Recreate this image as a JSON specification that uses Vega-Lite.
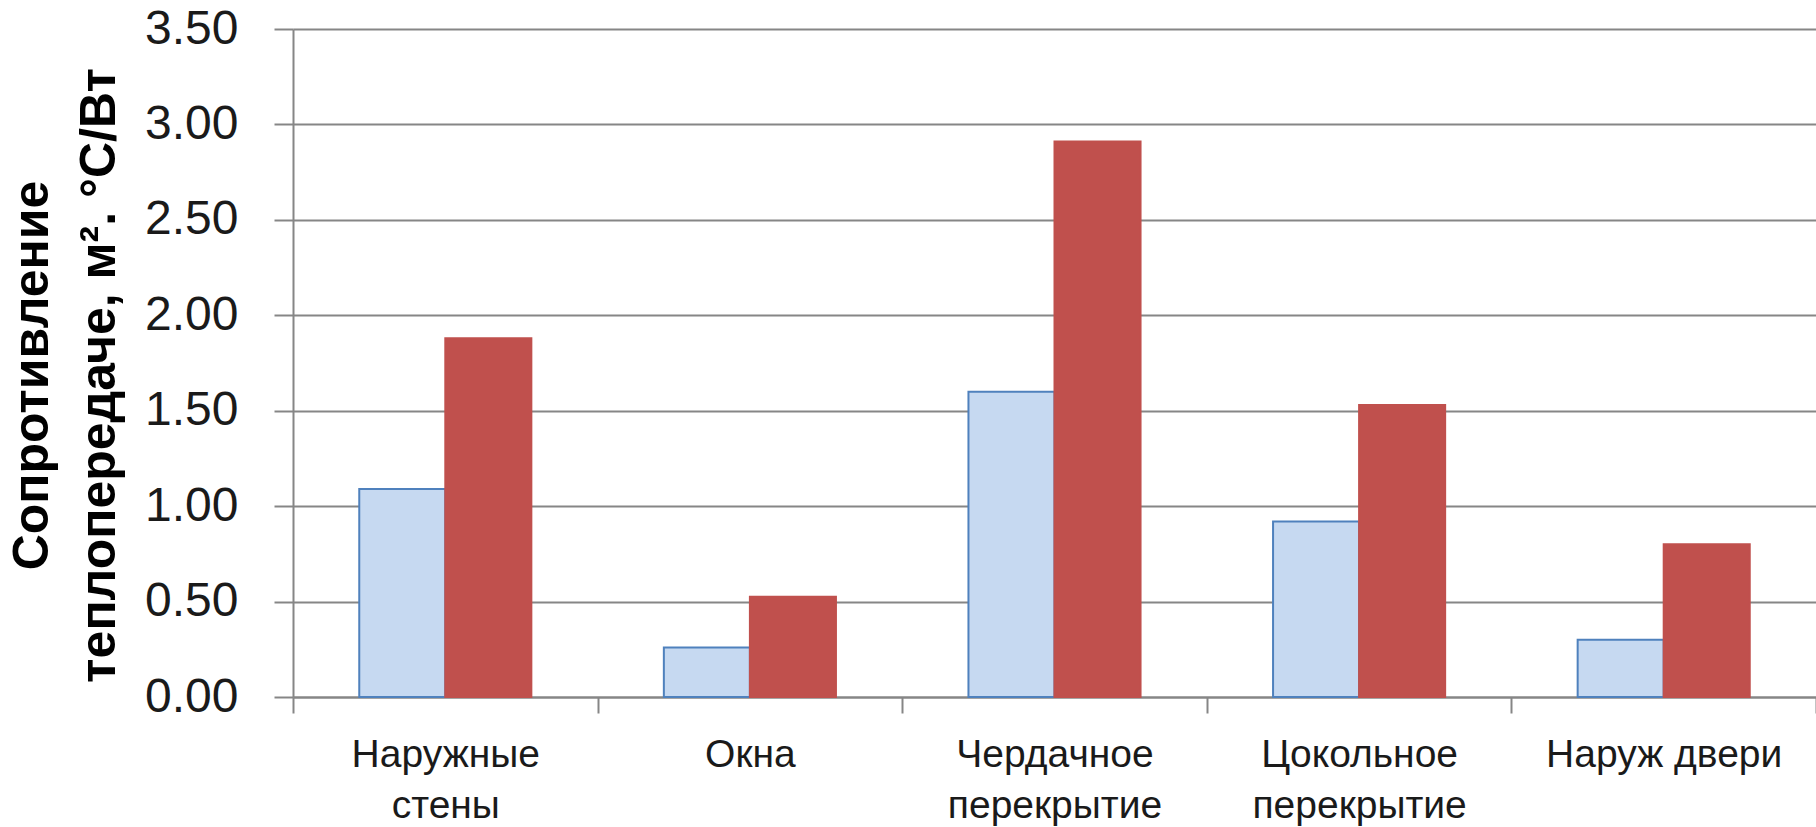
{
  "$schema": "https://vega.github.io/schema/vega-lite/v6.json",
  "width": 1523,
  "height": 668,
  "autosize": "none",
  "padding": {"left": 293, "top": 29, "right": 0, "bottom": 130},
  "background": "white",
  "data": {
    "values": [
      {"category": "Наружные стены", "series": "факт", "order": 1, "value": 1.09},
      {"category": "Наружные стены", "series": "норм", "order": 2, "value": 1.88},
      {"category": "Окна", "series": "факт", "order": 1, "value": 0.26},
      {"category": "Окна", "series": "норм", "order": 2, "value": 0.525},
      {"category": "Чердачное перекрытие", "series": "факт", "order": 1, "value": 1.6},
      {"category": "Чердачное перекрытие", "series": "норм", "order": 2, "value": 2.91},
      {"category": "Цокольное перекрытие", "series": "факт", "order": 1, "value": 0.92},
      {"category": "Цокольное перекрытие", "series": "норм", "order": 2, "value": 1.53},
      {"category": "Наруж двери", "series": "факт", "order": 1, "value": 0.3},
      {"category": "Наруж двери", "series": "норм", "order": 2, "value": 0.8}
    ]
  },
  "mark": {"type": "bar", "strokeWidth": 2},
  "encoding": {
    "x": {
      "field": "category",
      "type": "nominal",
      "sort": null,
      "scale": {"paddingInner": 0, "paddingOuter": 0},
      "axis": {
        "title": null,
        "labelAngle": 0,
        "labelFont": "Liberation Sans",
        "labelFontSize": 39,
        "labelColor": "#1a1a1a",
        "labelBaseline": "top",
        "labelPadding": 22,
        "labelLineHeight": 51,
        "labelLimit": 0,
        "labelExpr": "datum.label == 'Наруж двери' ? datum.label : split(datum.label, ' ')",
        "tickBand": "extent",
        "tickSize": 16,
        "tickColor": "#868686",
        "tickWidth": 2,
        "domainColor": "#868686",
        "domainWidth": 2,
        "grid": false
      }
    },
    "xOffset": {
      "field": "series",
      "type": "nominal",
      "sort": {"field": "order"},
      "scale": {"paddingInner": 0, "paddingOuter": 0.77}
    },
    "y": {
      "field": "value",
      "type": "quantitative",
      "scale": {"domain": [0, 3.5], "nice": false},
      "axis": {
        "values": [0, 0.5, 1, 1.5, 2, 2.5, 3, 3.5],
        "format": ".2f",
        "labelFont": "Liberation Sans",
        "labelFontSize": 48,
        "labelColor": "#1a1a1a",
        "labelPadding": 36,
        "tickSize": 19,
        "tickColor": "#868686",
        "tickWidth": 2,
        "domainColor": "#868686",
        "domainWidth": 2,
        "grid": true,
        "gridColor": "#868686",
        "gridWidth": 2,
        "title": ["Сопротивление", "теплопередаче, м². °С/Вт"],
        "titleFont": "Liberation Sans",
        "titleFontWeight": "bold",
        "titleFontSize": 50,
        "titleColor": "#000000",
        "titleLineHeight": 67,
        "titleAngle": -90,
        "titleAlign": "center",
        "titleBaseline": "middle",
        "titleX": -261,
        "titleY": 346
      }
    },
    "color": {
      "field": "series",
      "type": "nominal",
      "scale": {"domain": ["факт", "норм"], "range": ["#C6D9F1", "#C0504D"]},
      "legend": null
    },
    "stroke": {
      "field": "series",
      "type": "nominal",
      "scale": {"domain": ["факт", "норм"], "range": ["#4F81BD", "#C0504D"]},
      "legend": null
    }
  },
  "config": {
    "view": {"stroke": null}
  }
}
